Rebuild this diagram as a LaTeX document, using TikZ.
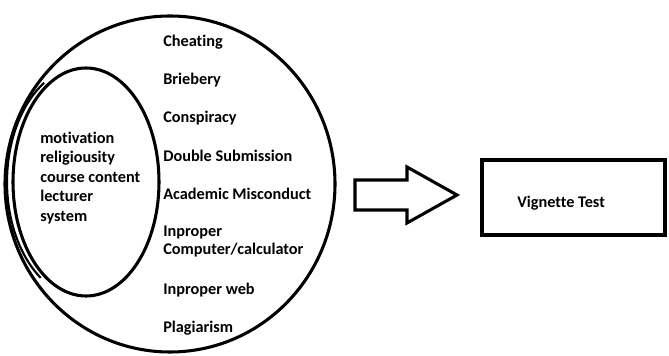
\documentclass[tikz,border=0pt]{standalone}
\usepackage{fontspec}
\setmainfont{Carlito}[Ligatures=NoCommon]
\begin{document}
\begin{tikzpicture}[x=0.75pt,y=-0.75pt,
  lbl/.style={font=\fontsize{12.2}{14.6}\selectfont\bfseries, inner sep=0pt, anchor=west, align=left},
  thick line/.style={line width=2.3pt}]
\useasboundingbox (0,0) rectangle (669,356);
% outer and inner ellipses
\draw[thick line] (170,184) ellipse [x radius=165, y radius=168];
\draw[thick line] (86,182) ellipse [x radius=73, y radius=114];
\draw[line width=1.6pt] (86,182) ++(125:79 and 117) arc [start angle=125, end angle=238, x radius=79, y radius=117];
% inner factors
\node[lbl] (factors) at (40,178) {motivation\\religiousity\\course content\\lecturer\\system};
% outer list
\node[lbl] (c1) at (163,42) {Cheating};
\node[lbl] (c2) at (163,80) {Briebery};
\node[lbl] (c3) at (163,118) {Conspiracy};
\node[lbl] (c4) at (163,156) {Double Submission};
\node[lbl] (c5) at (163,194) {Academic Misconduct};
\node[lbl,font=\fontsize{12.2}{13.5}\selectfont\bfseries] (c6) at (163,242) {Inproper\\Computer/calculator};
\node[lbl] (c7) at (163,290) {Inproper web};
\node[lbl] (c8) at (163,328) {Plagiarism};
% block arrow
\draw[thick line, line join=miter] (355,180) -- (407,180) -- (407,167) -- (457,195) -- (407,223) -- (407,210) -- (355,210) -- cycle;
% vignette box
\node[draw, line width=3pt, minimum width=183*0.75pt, minimum height=75*0.75pt, inner sep=0pt] (box) at (573.5,197.5) {};
\node[lbl] (vt) at (517,203) {Vignette Test};
\end{tikzpicture}
\end{document}
